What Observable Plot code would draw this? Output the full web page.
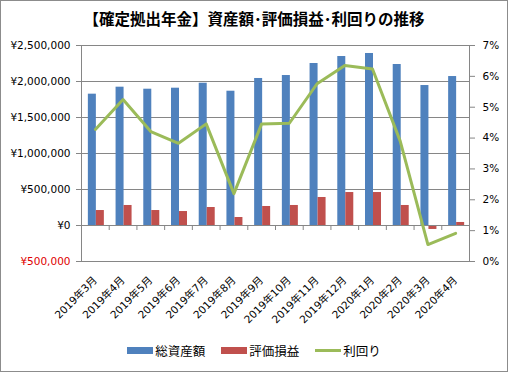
<!DOCTYPE html>
<html><head><meta charset="utf-8">
<script src="https://cdn.jsdelivr.net/npm/d3@7"></script>
<script src="https://cdn.jsdelivr.net/npm/@observablehq/plot@0.6"></script>
<style>
body{margin:0;background:#fff;}
#wrap{position:relative;width:508px;height:372px;overflow:hidden;background:#fff;font-family:"Noto Sans CJK JP",sans-serif;}
#border{position:absolute;left:0;top:0;width:508px;height:372px;box-sizing:border-box;border:1px solid #8c8c8c;pointer-events:none;}
#title{height:36px;line-height:36px;text-align:center;font-size:15.5px;font-weight:bold;color:#000;white-space:nowrap;}
#chart svg{display:block;}
#legend{position:absolute;left:0;top:336px;width:508px;height:28px;display:flex;justify-content:center;align-items:center;font-size:12.5px;color:#000;}
.item{display:flex;align-items:center;margin:0 8px;}
.sw{display:inline-block;width:26px;height:7px;margin-right:2px;}
.ln{display:inline-block;width:26px;height:3px;margin-right:2px;}
</style></head>
<body>
<div id="wrap">
  <div id="title">【確定拠出年金】資産額･評価損益･利回りの推移</div>
  <div id="chart"></div>
  <div id="legend"></div>
  <div id="border"></div>
</div>
<script>
const categories = ["2019年3月","2019年4月","2019年5月","2019年6月","2019年7月","2019年8月","2019年9月","2019年10月","2019年11月","2019年12月","2020年1月","2020年2月","2020年3月","2020年4月"];
const totalAssets = [1824000,1921000,1893000,1907000,1976000,1865000,2042000,2083000,2250000,2347000,2389000,2236000,1944000,2069000];
const gainLoss = [208000,278000,208000,194000,250000,111000,264000,278000,389000,458000,458000,278000,-55000,42000];
const yieldRate = [4.28,5.25,4.21,3.83,4.46,2.2,4.46,4.48,5.76,6.35,6.24,3.9,0.55,0.91];
const leftTicks = [-500000,0,500000,1000000,1500000,2000000,2500000];
const rightTicks = [0,1,2,3,4,5,6,7];
const seriesNames = ["総資産額","評価損益","利回り"];
const colors = ["#4F81BD","#C0504D","#9BBB59"];

const W = 508, H = 300;
const mt = 9, mb = 75, ml = 81, mr = 39;
const yMin = leftTicks[0], yMax = leftTicks[leftTicks.length-1];
const rMax = rightTicks[rightTicks.length-1];
const yOfRate = r => yMin + r / rMax * (yMax - yMin);
const rateOfY = v => (v - yMin) / (yMax - yMin) * rMax;
const bw = (W - ml - mr) / categories.length;
const plotH = H - mt - mb;
const zeroToBottom = plotH * (0 - yMin) / (yMax - yMin);

const rows = categories.map((c, i) => ({c, total: totalAssets[i], gain: gainLoss[i], rate: yOfRate(yieldRate[i])}));
const yen = d3.format(",");
const fontNum = "'DejaVu Sans','Noto Sans CJK JP',sans-serif";
const grid = "#868686";

const chart = Plot.plot({
  width: W, height: H,
  marginTop: mt, marginBottom: mb, marginLeft: ml, marginRight: mr,
  style: {fontFamily: fontNum, fontSize: "10.5px", color: "#000", background: "transparent"},
  x: {type: "band", domain: categories, padding: 0, round: false, label: null},
  y: {domain: [yMin, yMax], label: null},
  marks: [
    Plot.gridY(leftTicks, {stroke: grid, strokeOpacity: 1}),
    Plot.frame({stroke: grid}),
    Plot.barY(rows, {x: "c", y: "total", fill: colors[0], insetLeft: bw/2 - 7, insetRight: bw/2 - 1}),
    Plot.barY(rows, {x: "c", y: "gain", fill: colors[1], insetLeft: bw/2 + 1, insetRight: bw/2 - 9}),
    Plot.ruleY([0], {stroke: grid}),
    Plot.ruleX(categories, {x: d => d, dx: -bw/2, y1: 0, y2: yMin, insetBottom: zeroToBottom - 5, stroke: grid}),
    Plot.ruleX(categories.slice(-1), {x: d => d, dx: bw/2, y1: 0, y2: yMin, insetBottom: zeroToBottom - 5, stroke: grid}),
    Plot.line(rows, {x: "c", y: "rate", stroke: colors[2], strokeWidth: 3, strokeLinejoin: "round"}),
    Plot.axisY(leftTicks.filter(d => d >= 0), {anchor: "left", tickSize: 5, tickPadding: 6, stroke: grid, fill: "#000", tickFormat: d => "¥" + yen(Math.abs(d)), label: null}),
    Plot.axisY(leftTicks.filter(d => d < 0), {anchor: "left", tickSize: 5, tickPadding: 6, stroke: grid, fill: "#e00000", tickFormat: d => "¥" + yen(Math.abs(d)), label: null}),
    Plot.axisY(rightTicks.map(yOfRate), {anchor: "right", tickSize: 5, tickPadding: 8, stroke: grid, fill: "#000", tickFormat: v => Math.round(rateOfY(v)) + "%", label: null}),
    Plot.axisX({anchor: "bottom", tickSize: 0, tickPadding: 17, tickRotate: -45, fill: "#000", label: null})
  ]
});
document.getElementById("chart").appendChild(chart);

const legend = document.getElementById("legend");
seriesNames.forEach((name, i) => {
  const it = document.createElement("span");
  it.className = "item";
  const sw = document.createElement("span");
  sw.className = i < 2 ? "sw" : "ln";
  sw.style.background = colors[i];
  const t = document.createElement("span");
  t.textContent = name;
  it.appendChild(sw); it.appendChild(t);
  legend.appendChild(it);
});
</script>
</body></html>
